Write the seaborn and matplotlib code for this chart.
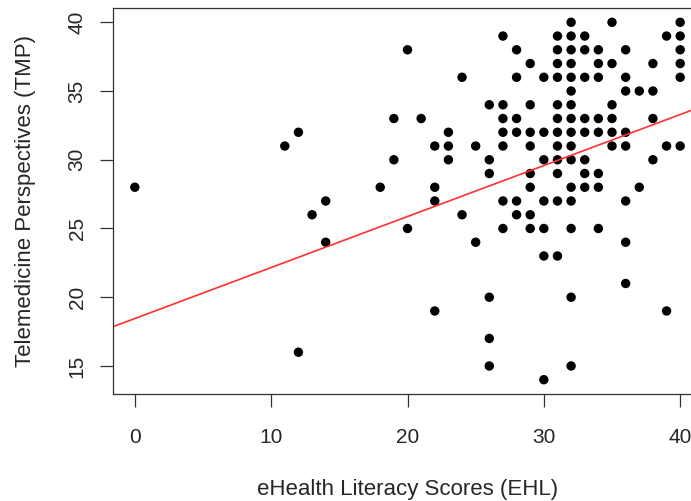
import numpy as np
import pandas as pd
import matplotlib
matplotlib.use("Agg")
import matplotlib.pyplot as plt
import seaborn as sns

sns.set_style("ticks")
plt.rcParams['font.family'] = ['Liberation Sans', 'DejaVu Sans']

# eHealth literacy score (x) and telemedicine perspectives score (y), one entry per respondent
ehl = [0, 11, 12, 12, 13, 14, 14, 18, 19, 19, 20, 20, 21,
       22, 22, 22, 22, 23, 23, 23, 24, 24, 25, 25,
       26, 26, 26, 26, 26, 26,
       27, 27, 27, 27, 27, 27, 27,
       28, 28, 28, 28, 28, 28,
       29, 29, 29, 29, 29, 29, 29, 29,
       30, 30, 30, 30, 30, 30, 30,
       31, 31, 31, 31, 31, 31, 31, 31, 31, 31, 31, 31,
       32, 32, 32, 32, 32, 32, 32, 32, 32, 32, 32, 32, 32, 32, 32, 32,
       33, 33, 33, 33, 33, 33, 33, 33,
       34, 34, 34, 34, 34, 34, 34, 34,
       35, 35, 35, 35, 35, 35,
       36, 36, 36, 36, 36, 36, 36, 36,
       37, 37,
       38, 38, 38, 38,
       39, 39, 39,
       40, 40, 40, 40, 40, 40]
tmp = [28, 31, 32, 16, 26, 27, 24, 28, 33, 30, 38, 25, 33,
       31, 28, 27, 19, 32, 31, 30, 36, 26, 31, 24,
       34, 30, 29, 20, 17, 15,
       39, 34, 33, 32, 31, 27, 25,
       38, 36, 33, 32, 27, 26,
       37, 34, 32, 31, 29, 28, 26, 25,
       36, 32, 30, 27, 25, 23, 14,
       39, 38, 37, 36, 34, 33, 32, 31, 30, 29, 27, 23,
       40, 39, 38, 37, 36, 35, 34, 33, 32, 31, 30, 28, 27, 25, 20, 15,
       39, 38, 36, 33, 32, 30, 29, 28,
       38, 37, 36, 33, 32, 29, 28, 25,
       40, 37, 34, 33, 32, 31,
       38, 36, 35, 32, 31, 27, 24, 21,
       35, 28,
       37, 35, 33, 30,
       39, 31, 19,
       40, 39, 38, 37, 36, 31]

# fitted line
fit_intercept = 18.45
fit_slope = 0.371

x_ticks = [0, 10, 20, 30, 40]
y_ticks = [15, 20, 25, 30, 35, 40]

df = pd.DataFrame({"EHL": ehl, "TMP": tmp})

fig = plt.figure(figsize=(6.91, 5.01), dpi=100)
ax = fig.add_axes([113 / 691, 1 - 394 / 501, 589 / 691, 386 / 501])

sns.scatterplot(data=df, x="EHL", y="TMP", ax=ax, color="black",
                s=46, edgecolor="none", linewidth=0)
ax.axline((0, fit_intercept), slope=fit_slope, color="#ff3030", lw=1.2)

ax.set_xlim(-1.6, 41.6)
ax.set_ylim(12.96, 41.04)
ax.set_xticks(x_ticks)
ax.set_yticks(y_ticks)
ax.tick_params(axis="both", direction="out", length=9.5, width=0.9,
               color="#333333", labelsize=15)
ax.tick_params(axis="x", pad=15)
ax.tick_params(axis="y", pad=9.5)
for lab in ax.get_yticklabels():
    lab.set_rotation(90)
    lab.set_va("center")
for sp in ax.spines.values():
    sp.set_visible(True)
    sp.set_color("#333333")
    sp.set_linewidth(0.9)

ax.set_xlabel("eHealth Literacy Scores (EHL)", fontsize=16, labelpad=23)
ax.set_ylabel("Telemedicine Perspectives (TMP)", fontsize=16, labelpad=23)

fig.savefig("out.png", dpi=100)
